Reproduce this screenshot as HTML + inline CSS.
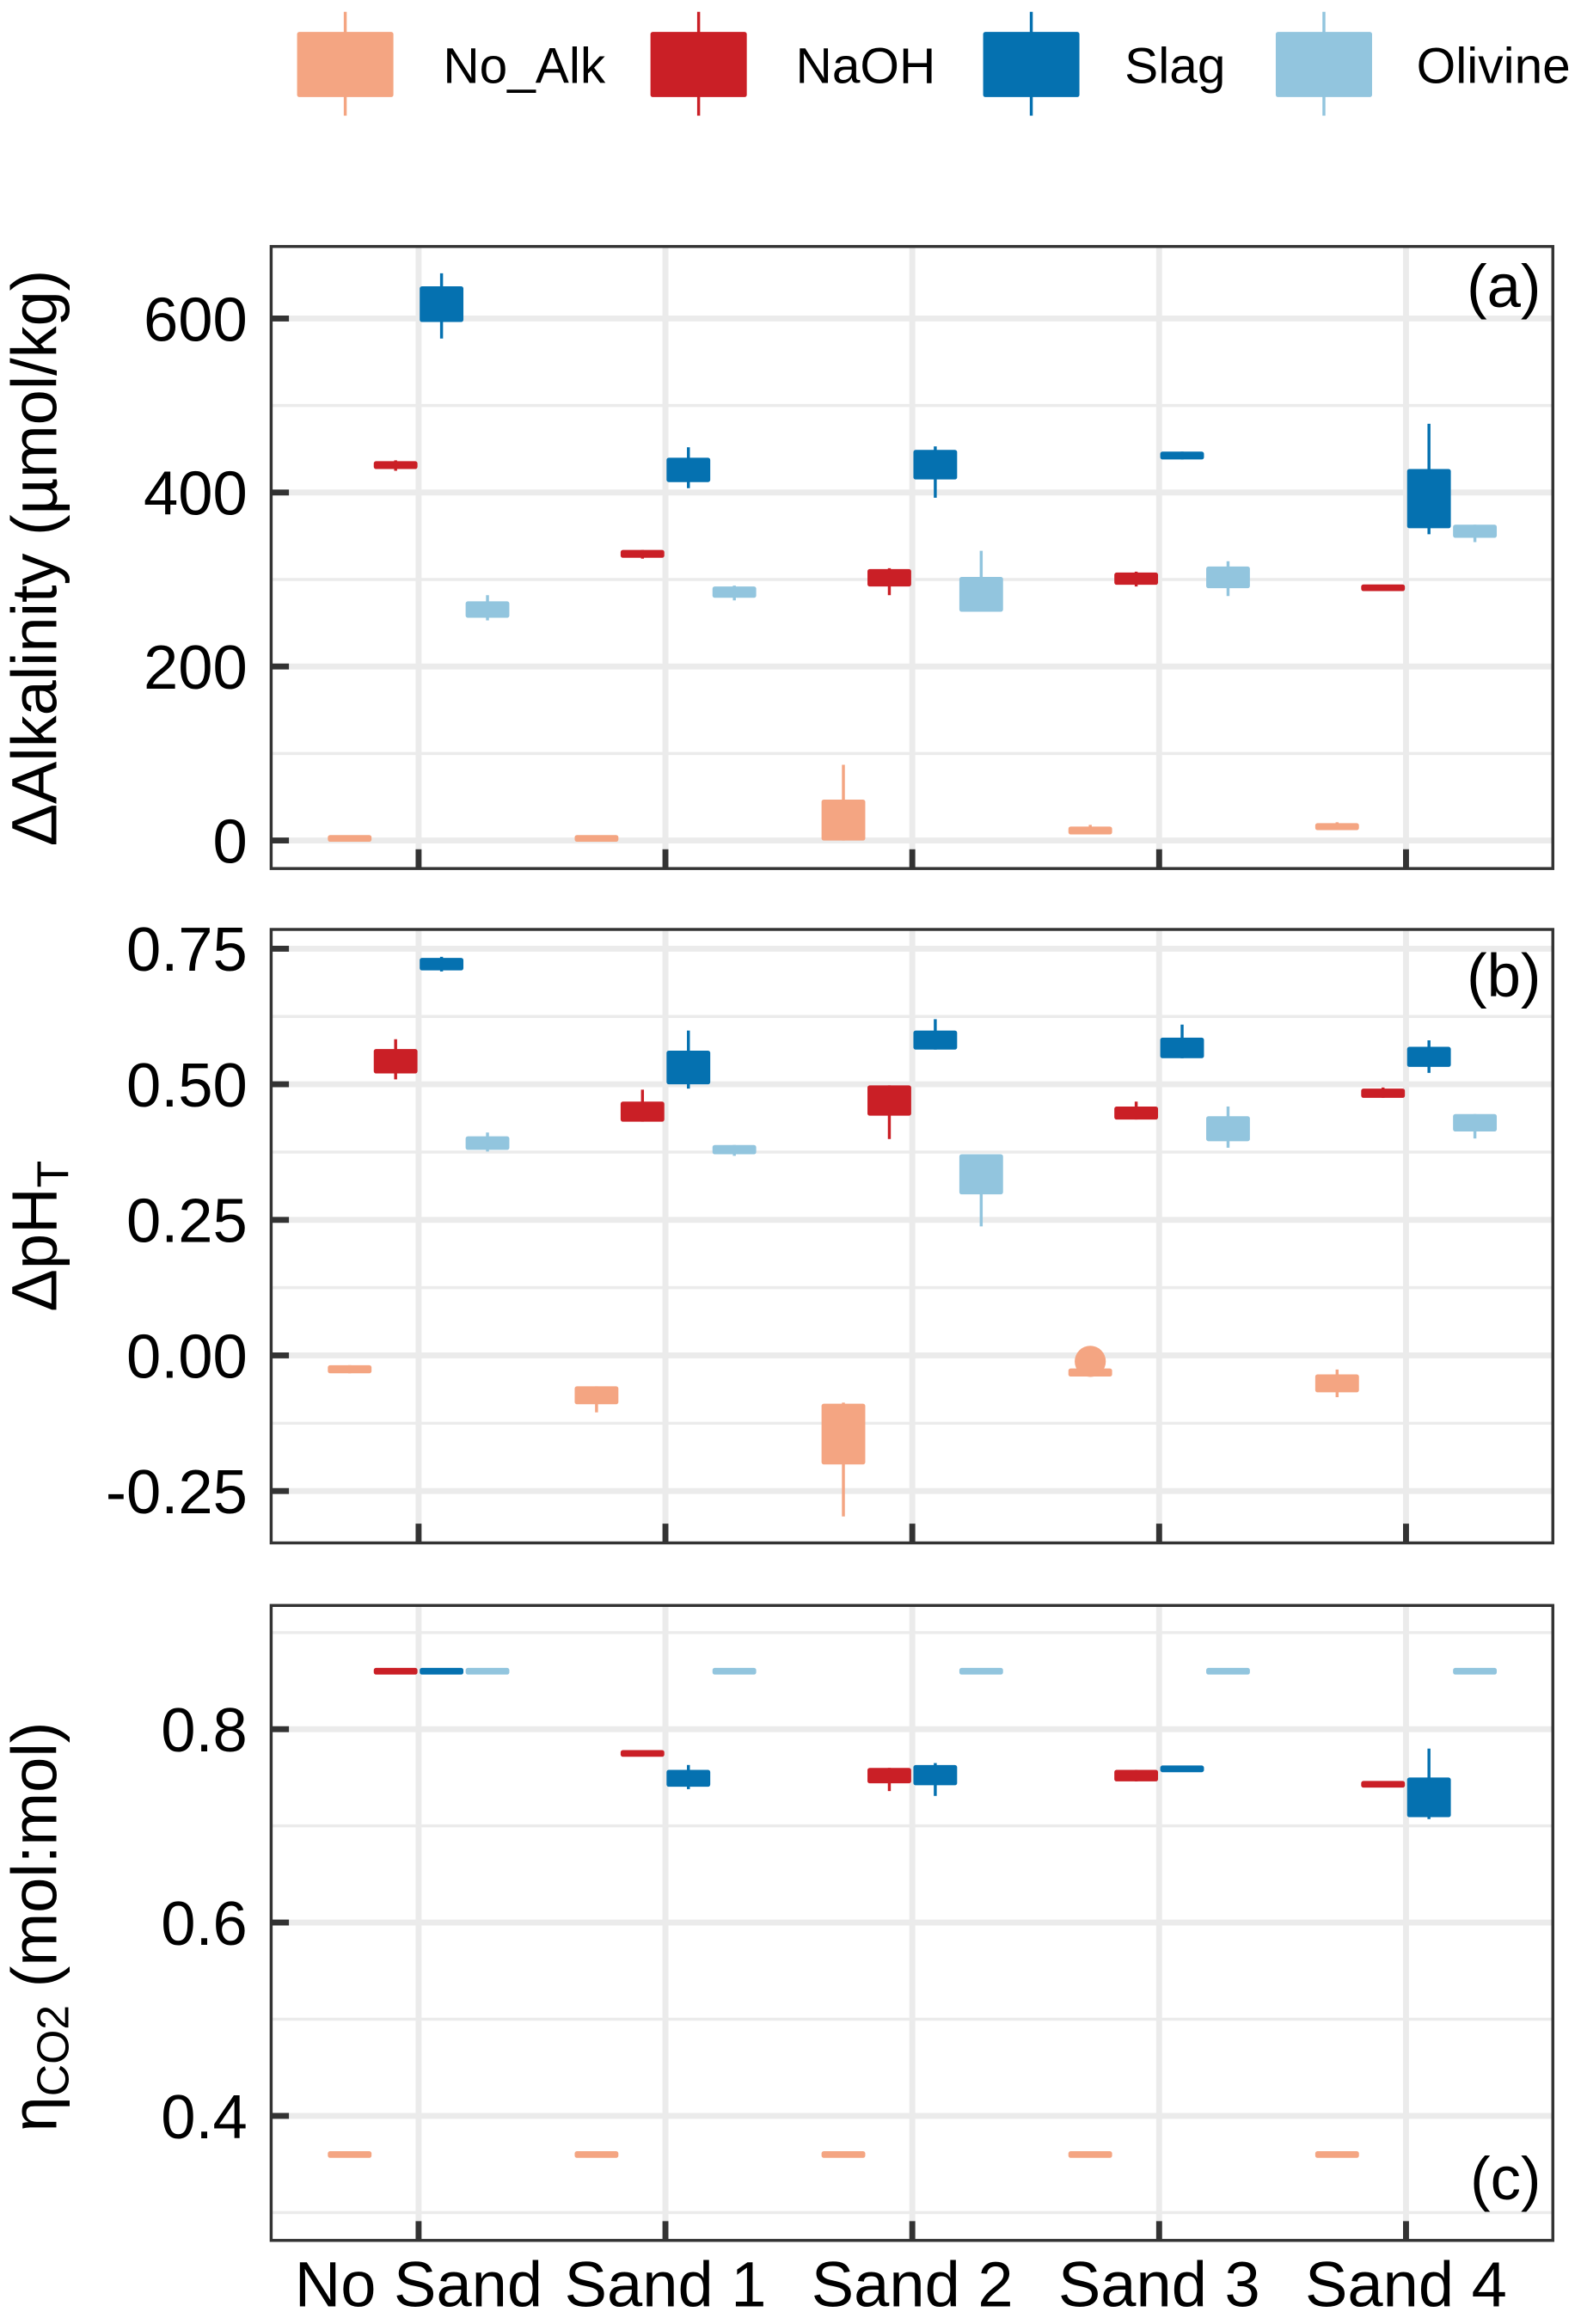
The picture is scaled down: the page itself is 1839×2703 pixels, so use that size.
<!DOCTYPE html>
<html><head><meta charset="utf-8"><style>
html,body{margin:0;padding:0;background:#fff;}
svg{display:block;}
text{font-family:"Liberation Sans",Arial,sans-serif;fill:#000;}
</style></head>
<body>
<svg id="chart" xmlns="http://www.w3.org/2000/svg" width="1839" height="2703" viewBox="0 0 1067 1568" preserveAspectRatio="none">
<g id="legend"></g>
<g id="panels"></g>
</svg>
<script>
// ---------- data ----------
const categories = ["No Sand","Sand 1","Sand 2","Sand 3","Sand 4"];
const seriesNames = ["No_Alk","NaOH","Slag","Olivine"];
const seriesColors = ["#F4A582","#CA1F26","#0571B0","#92C5DE"];
// each entry: [whiskerLow, q1, q3, whiskerHigh]
const alkNoAlk  = [[0,0,5,5],[0,0,5,5],[0,0,47,87],[7,7,16,18],[12,12,20,21]];
const alkNaOH   = [[425,427,436,437],[324,325,334,334],[282,292,312,313],[292,294,308,309],[287,287,294,294]];
const alkSlag   = [[577,596,637,652],[405,412,440,452],[394,415,449,453],[438,438,447,447],[352,359,427,479]];
const alkOlivine= [[253,256,275,282],[276,279,292,293],[263,263,303,333],[281,290,315,321],[343,348,363,363]];
const phNoAlk   = [[-0.033,-0.033,-0.018,-0.018],[-0.105,-0.090,-0.057,-0.057],[-0.297,-0.201,-0.089,-0.087],[-0.039,-0.039,-0.024,-0.024],[-0.077,-0.068,-0.035,-0.026]];
const phNaOH    = [[0.509,0.520,0.565,0.583],[0.431,0.431,0.468,0.490],[0.399,0.442,0.498,0.498],[0.435,0.435,0.459,0.468],[0.475,0.475,0.492,0.494]];
const phSlag    = [[0.708,0.710,0.733,0.735],[0.492,0.500,0.562,0.599],[0.564,0.564,0.599,0.620],[0.548,0.548,0.586,0.610],[0.521,0.532,0.569,0.581]];
const phOlivine = [[0.376,0.379,0.404,0.411],[0.368,0.371,0.388,0.388],[0.238,0.297,0.371,0.371],[0.383,0.395,0.441,0.459],[0.400,0.413,0.445,0.445]];
const phOutlierCat = [3];
const phOutlierVal = [-0.011];
const etaNoAlk  = [[0.36,0.36,0.36,0.36],[0.36,0.36,0.36,0.36],[0.36,0.36,0.36,0.36],[0.36,0.36,0.36,0.36],[0.36,0.36,0.36,0.36]];
const etaNaOH   = [[0.86,0.86,0.86,0.86],[0.775,0.775,0.775,0.775],[0.736,0.744,0.760,0.760],[0.746,0.746,0.758,0.758],[0.743,0.743,0.743,0.743]];
const etaSlag   = [[0.86,0.86,0.86,0.86],[0.738,0.7405,0.758,0.763],[0.731,0.742,0.763,0.765],[0.759,0.759,0.759,0.759],[0.707,0.709,0.750,0.780]];
const etaOlivine= [[0.86,0.86,0.86,0.86],[0.86,0.86,0.86,0.86],[0.86,0.86,0.86,0.86],[0.86,0.86,0.86,0.86],[0.86,0.86,0.86,0.86]];
const alkTicks = [0,200,400,600];
const alkMinor = [100,300,500];
const phTicks = [-0.25,0,0.25,0.5,0.75];
const phTickLabels = ["-0.25","0.00","0.25","0.50","0.75"];
const phMinor = [-0.125,0.125,0.375,0.625];
const etaTicks = [0.4,0.6,0.8];
const etaMinor = [0.3,0.5,0.7,0.9];

// ---------- layout ----------
const NS="http://www.w3.org/2000/svg";
const svg=document.getElementById('chart');
const panelsG=document.getElementById('panels');
const X0=183, X1=1048;
function xCat(i){return 282.5+i*166.6;}
const offsets=[-46.5,-15.5,15.5,46.5];
const boxW=29.5;
function mk(tag,attrs,parent){const e=document.createElementNS(NS,tag);for(const k in attrs)e.setAttribute(k,attrs[k]);(parent||svg).appendChild(e);return e;}

const panels=[
 {key:'a',top:166.3,bot:586,y:v=>567.1-v*0.587,ticks:alkTicks,labels:alkTicks.map(String),minor:alkMinor,
  data:[alkNoAlk,alkNaOH,alkSlag,alkOlivine],title:'ΔAlkalinity (µmol/kg)',titleY:376.5,titleLen:389,tag:'(a)',tagY:207},
 {key:'b',top:627.1,bot:1041,y:v=>914.5-v*365.9,ticks:phTicks,labels:phTickLabels,minor:phMinor,
  data:[phNoAlk,phNaOH,phSlag,phOlivine],title:null,titleY:834,tag:'(b)',tagY:672},
 {key:'c',top:1083.2,bot:1511.6,y:v=>1166.7-(v-0.8)*652.2,ticks:etaTicks,labels:etaTicks.map(v=>v.toFixed(1)),minor:etaMinor,
  data:[etaNoAlk,etaNaOH,etaSlag,etaOlivine],title:null,titleY:1300,tag:'(c)',tagY:1484}
];

panels.forEach((p,pi)=>{
  const g=mk('g',{},panelsG);
  
  
  // minor grid
  p.minor.forEach(v=>{const l=mk('line',{x1:X0,x2:X1,y1:p.y(v),y2:p.y(v),stroke:'#ebebeb','stroke-width':2},g);
    });
  // major grid
  p.ticks.forEach(v=>{const l=mk('line',{x1:X0,x2:X1,y1:p.y(v),y2:p.y(v),stroke:'#ebebeb','stroke-width':4},g);
    });
  categories.forEach((c,i)=>{const l=mk('line',{x1:xCat(i),x2:xCat(i),y1:p.top,y2:p.bot,stroke:'#ebebeb','stroke-width':4},g);
    });
  // boxes
  p.data.forEach((ser,si)=>{
    ser.forEach((d,ci)=>{
      const cx=xCat(ci)+offsets[si];
      const [lo,q1,q3,hi]=d;
      const col=seriesColors[si];
      const w=mk('line',{x1:cx,x2:cx,y1:p.y(hi),y2:p.y(lo),stroke:col,'stroke-width':2},g);
      
      
      let yt=p.y(q3), yb=p.y(q1);
      if(yb-yt<4.5){const m=(yt+yb)/2;yt=m-2.25;yb=m+2.25;}
      const r=mk('rect',{x:cx-boxW/2,y:yt,width:boxW,height:yb-yt,fill:col,rx:1.5},g);
      
      
    });
  });
  if(p.key==='b'){
    phOutlierCat.forEach((ci,k)=>{
      const c=mk('circle',{cx:xCat(ci)+offsets[0],cy:p.y(phOutlierVal[k]),r:10.5,fill:seriesColors[0]},g);
      
      
    });
  }
  // frame
  const fr=mk('rect',{x:X0,y:p.top,width:X1-X0,height:p.bot-p.top,fill:'none',stroke:'#333','stroke-width':2},g);
  
  // y ticks + labels
  p.ticks.forEach((v,k)=>{
    const t=mk('line',{x1:X0,x2:X0+12,y1:p.y(v),y2:p.y(v),stroke:'#333','stroke-width':4},g);
    
    const tx=mk('text',{x:167,y:p.y(v)+15,'text-anchor':'end','font-size':42},g);
    tx.textContent=p.labels[k];
    
  });
  // x ticks
  categories.forEach((c,i)=>{
    const t=mk('line',{x1:xCat(i),x2:xCat(i),y1:p.bot,y2:p.bot-13,stroke:'#333','stroke-width':4},g);
    
  });
  // panel tag
  const tg=mk('text',{x:1040,y:p.tagY,'text-anchor':'end','font-size':41},g);
  tg.textContent=p.tag;
  
});

// x labels
categories.forEach((c,i)=>{
  const t=mk('text',{x:xCat(i),y:1556,'text-anchor':'middle','font-size':43});
  t.textContent=c;
  
  
});

// y titles
const ta=mk('text',{x:0,y:0,transform:'translate(38,376.5) rotate(-90)','text-anchor':'middle','font-size':43,textLength:389,lengthAdjust:'spacingAndGlyphs'});
ta.textContent='ΔAlkalinity (µmol/kg)';



const tb=mk('text',{x:0,y:0,transform:'translate(38,834) rotate(-90)','text-anchor':'middle','font-size':43});
tb.innerHTML='ΔpH<tspan font-size="30" dy="8">T</tspan>';



const tc=mk('text',{x:0,y:0,transform:'translate(38,1300) rotate(-90)','text-anchor':'middle','font-size':43});
tc.innerHTML='η<tspan font-size="30" dy="8">CO2</tspan><tspan dy="-8"> (mol:mol)</tspan>';



// legend
const lg=document.getElementById('legend');
const legBoxX=[200.5,439,663.5,861];
const legTextX=[299,537,759,956];
seriesNames.forEach((n,i)=>{
  const col=seriesColors[i];
  const gi=mk('g',{},lg);
  
  
  const cx=legBoxX[i]+32.5;
  const l=mk('line',{x1:cx,x2:cx,y1:8,y2:78,stroke:col,'stroke-width':2},gi);
  
  const r=mk('rect',{x:legBoxX[i],y:21.5,width:65,height:44,fill:col,rx:1.5},gi);
  
  const t=mk('text',{x:legTextX[i],y:56,'font-size':34},gi);
  t.textContent=n;
  
});
</script>
</body></html>
